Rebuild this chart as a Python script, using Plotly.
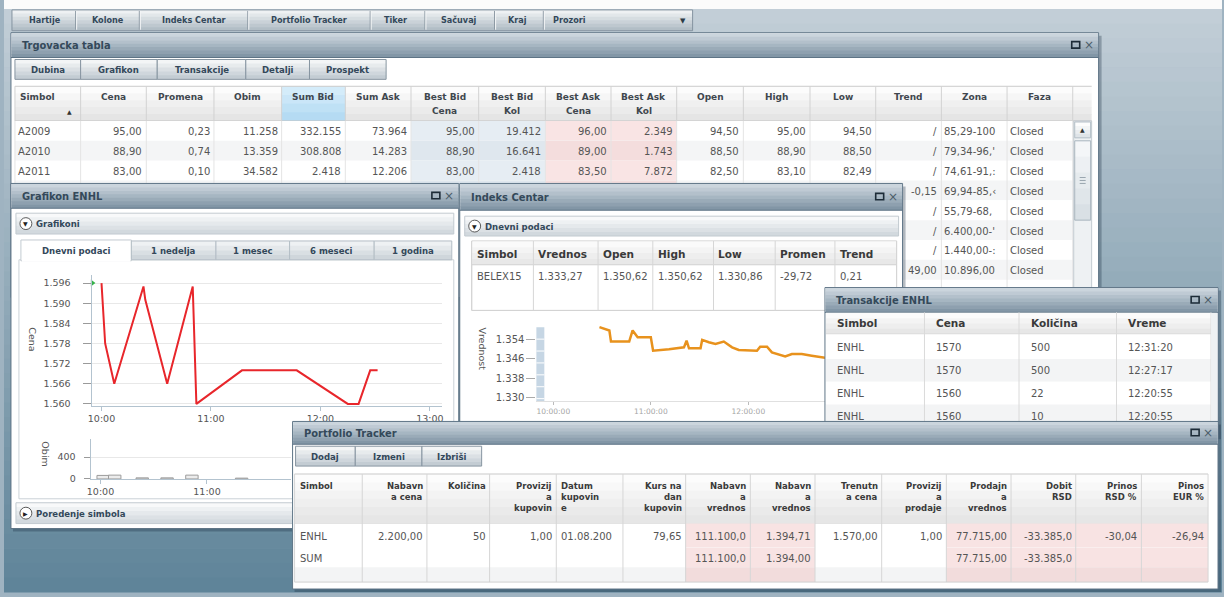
import plotly.graph_objects as go

W, H = 1224, 597
DAY = "2009-08-03 "

# ----------------------------- data -----------------------------
toolbar_labels = ["Hartije", "Kolone", "Indeks Centar", "Portfolio Tracker",
                  "Tiker", "Sačuvaj", "Kraj", "Prozori"]

board_title = "Trgovacka tabla"
board_buttons = ["Dubina", "Grafikon", "Transakcije", "Detalji", "Prospekt"]
board_headers = [["Simbol"], ["Cena"], ["Promena"], ["Obim"], ["Sum Bid"],
                 ["Sum Ask"], ["Best Bid", "Cena"], ["Best Bid", "Kol"],
                 ["Best Ask", "Cena"], ["Best Ask", "Kol"], ["Open"], ["High"],
                 ["Low"], ["Trend"], ["Zona"], ["Faza"]]
board_rows = [
    ["A2009", "95,00", "0,23", "11.258", "332.155", "73.964", "95,00", "19.412",
     "96,00", "2.349", "94,50", "95,00", "94,50", "/", "85,29-100", "Closed"],
    ["A2010", "88,90", "0,74", "13.359", "308.808", "14.283", "88,90", "16.641",
     "89,00", "1.743", "88,50", "88,90", "88,50", "/", "79,34-96,'", "Closed"],
    ["A2011", "83,00", "0,10", "34.582", "2.418", "12.206", "83,00", "2.418",
     "83,50", "7.872", "82,50", "83,10", "82,49", "/", "74,61-91,:", "Closed"],
]
board_more_trend = ["-0,15", "/", "/", "/", "49,00"]
board_more_zona = ["69,94-85,‹", "55,79-68,", "6.400,00-'", "1.440,00-:", "10.896,00"]
board_more_faza = ["Closed", "Closed", "Closed", "Closed", "Closed"]

chart_title = "Grafikon ENHL"
chart_tabs = ["Dnevni podaci", "1 nedelja", "1 mesec", "6 meseci", "1 godina"]
enhl_times = ["10:00:00", "10:02:00", "10:07:00", "10:23:00", "10:24:00", "10:36:00",
              "10:50:00", "10:52:00", "11:17:00", "11:47:00", "12:15:00", "12:20:55",
              "12:27:17", "12:31:20"]
enhl_prices = [1596, 1578, 1566, 1595, 1591, 1566, 1595, 1560, 1570, 1570, 1560, 1560,
               1570, 1570]
enhl_open_time = "09:55:00"
enhl_open_price = 1596
vol_times = ["10:01:30", "10:08:00", "10:23:30", "10:37:30", "10:51:30", "11:19:30"]
vol_values = [65, 70, 20, 20, 70, 15]

index_title = "Indeks Centar"
index_headers = ["Simbol", "Vrednos", "Open", "High", "Low", "Promen", "Trend"]
index_row = ["BELEX15", "1.333,27", "1.350,62", "1.350,62", "1.330,86", "-29,72", "0,21"]
index_times = ["10:28:24", "10:34:30", "10:35:30", "10:46:42", "10:48:48", "10:51:54",
               "11:00:00", "11:01:24", "11:11:12", "11:20:24", "11:22:00", "11:23:30",
               "11:30:36", "11:31:36", "11:35:42", "11:39:48", "11:44:54", "11:50:00",
               "11:54:06", "12:01:12", "12:05:18", "12:07:18", "12:11:30", "12:14:30",
               "12:18:36", "12:22:42", "12:26:48", "12:32:54", "12:39:00", "12:45:06",
               "12:52:00"]
index_values = [1359.2, 1357.8, 1353.2, 1353.2, 1357.8, 1355.0, 1355.0, 1349.4, 1350.0,
                1350.8, 1353.6, 1350.4, 1350.4, 1353.9, 1352.9, 1352.2, 1353.2, 1350.8,
                1349.7, 1349.4, 1349.4, 1351.1, 1351.1, 1348.7, 1348.0, 1347.0, 1348.0,
                1348.0, 1347.3, 1346.5, 1346.0]

trans_title = "Transakcije ENHL"
trans_headers = ["Simbol", "Cena", "Količina", "Vreme"]
trans_symbol = ["ENHL", "ENHL", "ENHL", "ENHL"]
trans_price = ["1570", "1570", "1560", "1560"]
trans_qty = ["500", "500", "22", "10"]
trans_time = ["12:31:20", "12:27:17", "12:20:55", "12:20:55"]

pf_title = "Portfolio Tracker"
pf_buttons = ["Dodaj", "Izmeni", "Izbriši"]
pf_headers = [["Simbol"], ["Nabavn", "a cena"], ["Količina"], ["Provizij", "a", "kupovin"],
              ["Datum", "kupovin", "e"], ["Kurs na", "dan", "kupovin"],
              ["Nabavn", "a", "vrednos"], ["Nabavn", "a", "vrednos"], ["Trenutn", "a cena"],
              ["Provizij", "a", "prodaje"], ["Prodajn", "a", "vrednos"], ["Dobit", "RSD"],
              ["Prinos", "RSD %"], ["Pinos", "EUR %"]]
pf_rows = [
    ["ENHL", "2.200,00", "50", "1,00", "01.08.200", "79,65", "111.100,0", "1.394,71",
     "1.570,00", "1,00", "77.715,00", "-33.385,0", "-30,04", "-26,94"],
    ["SUM", "", "", "", "", "", "111.100,0", "1.394,00", "", "", "77.715,00",
     "-33.385,0", "", ""],
]

# ----------------------------- helpers -----------------------------
UI = "DejaVu Sans Condensed, DejaVu Sans, sans-serif"
DF = "DejaVu Sans, Verdana, sans-serif"
TXT = "#555555"
HDR = "#3f474e"
BTN = "#33485a"

shapes, annotations = [], []
LAYER = ["below"]


def X(x):
    return x / W


def Y(y):
    return 1 - y / H


def hex2rgb(h):
    h = h.lstrip("#")
    return tuple(int(h[i:i + 2], 16) for i in (0, 2, 4))


def mix(a, b, t):
    ra, rb = hex2rgb(a), hex2rgb(b)
    return "rgb(%d,%d,%d)" % tuple(round(ra[i] + (rb[i] - ra[i]) * t) for i in range(3))


def rect(x0, y0, x1, y1, fill=None, line=None, lw=1):
    shapes.append(dict(type="rect", xref="paper", yref="paper",
                       x0=X(x0), x1=X(x1), y0=Y(y1), y1=Y(y0),
                       fillcolor=fill if fill else "rgba(0,0,0,0)",
                       line=dict(color=line if line else "rgba(0,0,0,0)",
                                 width=lw if line else 0),
                       layer=LAYER[0]))


def seg(x0, y0, x1, y1, color, lw=1):
    shapes.append(dict(type="line", xref="paper", yref="paper",
                       x0=X(x0), x1=X(x1), y0=Y(y0), y1=Y(y1),
                       line=dict(color=color, width=lw), layer=LAYER[0]))


def circ(cx, cy, r, fill, line):
    shapes.append(dict(type="circle", xref="paper", yref="paper",
                       x0=X(cx - r), x1=X(cx + r), y0=Y(cy + r), y1=Y(cy - r),
                       fillcolor=fill, line=dict(color=line, width=1), layer=LAYER[0]))


def grad(x0, y0, x1, y1, c0, c1, n=6):
    h = (y1 - y0) / n
    for i in range(n):
        t = i / (n - 1) if n > 1 else 0
        rect(x0, y0 + h * i, x1, min(y1, y0 + h * (i + 1) + 0.6), fill=mix(c0, c1, t))


def txt(x, y, s, size=10, color=TXT, bold=False, anchor="left", fam=DF, angle=0):
    annotations.append(dict(xref="paper", yref="paper", x=X(x), y=Y(y),
                            text=("<b>%s</b>" % s) if bold else s, showarrow=False,
                            xanchor=anchor, yanchor="middle", borderpad=0, borderwidth=0,
                            font=dict(family=fam, size=size, color=color),
                            textangle=angle))


def window(x0, y0, x1, y1, tb, title):
    rect(x0 + 2, y0 + 3, x1 + 3, y1 + 3, fill="rgba(20,40,60,0.30)")
    rect(x0, y0, x1, y1, fill="#ffffff", line="#5d7385", lw=1)
    grad(x0 + 0.5, y0 + 0.5, x1 - 0.5, y0 + tb, "#cbd5dd", "#8296a6", 7)
    seg(x0, y0 + tb, x1, y0 + tb, "#5d7385", 1)
    txt(x0 + 11, y0 + tb / 2 + 0.5, title, size=11, color="#34495a", bold=True, fam=UI)
    rect(x1 - 27, y0 + tb / 2 - 3.5, x1 - 19, y0 + tb / 2 + 3, line="#1d2c38", lw=1.6)
    txt(x1 - 10, y0 + tb / 2, "×", size=12, color="#4d5d6a", anchor="center", fam=DF)


def button_row(edges, y0, y1, labels, size=9.5):
    for k, lab in enumerate(labels):
        grad(edges[k], y0, edges[k + 1], y1, "#f3f5f6", "#c3ccd3", 5)
        rect(edges[k], y0, edges[k + 1], y1, line="#8795a1", lw=1)
        txt((edges[k] + edges[k + 1]) / 2, (y0 + y1) / 2, lab, size=size, color=BTN,
            bold=True, anchor="center", fam=UI)


def bar_header(x0, y0, x1, y1, label, glyph):
    grad(x0, y0, x1, y1, "#f8f9fa", "#d2d9de", 5)
    rect(x0, y0, x1, y1, line="#c2cad0", lw=1)
    circ(x0 + 10, (y0 + y1) / 2, 6, "#ffffff", "#5a5a5a")
    txt(x0 + 10, (y0 + y1) / 2, glyph, size=6, color="#222", anchor="center")
    txt(x0 + 20, (y0 + y1) / 2, label, size=9.5, color=BTN, bold=True, fam=UI)


# ----------------------------- desktop -----------------------------
n_bands = 40
for i in range(n_bands):
    y0 = 9 + (H - 9) * i / n_bands
    y1 = 9 + (H - 9) * (i + 1) / n_bands + 0.6
    rect(0, y0, W, y1, fill=mix("#c2ced7", "#5f8499", i / (n_bands - 1)))
rect(0, 0, W, 9, fill="#fbfbfb")

# toolbar
tb_edges = [8, 72, 136, 245, 368, 423, 493, 542, 692]
tb_centers = [41, 105, 191, 307, 393, 457, 516]
grad(8, 10, 692, 31, "#eef1f3", "#b2bec6", 6)
rect(8, 10, 692, 31, line="#8593a0", lw=1)
for e in tb_edges[1:-1]:
    seg(e, 11, e, 30, "#8895a0")
    seg(e + 1, 11, e + 1, 30, "#f4f6f7")
for k, c in enumerate(tb_centers):
    txt(c, 20.5, toolbar_labels[k], size=9, color=BTN, bold=True, anchor="center", fam=UI)
txt(552, 20.5, toolbar_labels[7], size=9, color=BTN, bold=True, fam=UI)
txt(682, 21, "▼", size=7, color="#2c3a46", anchor="center")

# ----------------------------- Trgovacka tabla -----------------------------
LAYER[0] = "below"
window(7, 33, 1100, 300, 25, board_title)
button_row([11, 77, 154, 243, 307, 384], 60, 80, board_buttons)
b_edges = [11, 77, 143, 211, 279, 343, 409, 477, 544, 610, 676, 743, 810, 876, 942,
           1008, 1074]
b_align = ["l"] + ["r"] * 13 + ["l", "l"]
grad(11, 87, 1093, 122, "#fcfcfc", "#e5e5e5", 5)
grad(279, 87, 343, 122, "#d4ecfa", "#b5dbf3", 4)
seg(11, 87, 1093, 87, "#cacaca")
seg(11, 122, 1093, 122, "#c4c4c4")
for i in range(8):
    y0 = 122 + 20 * i
    rect(11, y0, 1074, y0 + 20, fill="#ffffff" if i % 2 == 0 else "#f4f5f6")
    rect(409, y0, 544, y0 + 20, fill="#e6edf3" if i % 2 == 0 else "#dfe7ee")
    rect(544, y0, 676, y0 + 20, fill="#f9e4e4" if i % 2 == 0 else "#f4dddd")
for e in b_edges:
    seg(e, 87, e, 122, "#d2d2d2")
    seg(e, 122, e, 290, "#e4e4e4")
for j, hd in enumerate(board_headers):
    cx = (b_edges[j] + b_edges[j + 1]) / 2
    for k, ln in enumerate(hd):
        if j == 0:
            txt(16, 98, ln, size=9, color=HDR, bold=True, fam=DF)
        else:
            txt(cx, 98 + 14 * k, ln, size=9, color=HDR, bold=True, anchor="center", fam=DF)
txt(66, 112, "▲", size=6, color="#333", anchor="center")
for i, row in enumerate(board_rows):
    yc = 133 + 20 * i
    for j, val in enumerate(row):
        if b_align[j] == "l":
            txt(b_edges[j] + 3, yc, val)
        else:
            txt(b_edges[j + 1] - 4, yc, val, anchor="right")
for i in range(len(board_more_zona)):
    yc = 133 + 20 * (i + 3)
    txt(b_edges[14] - 4, yc, board_more_trend[i], anchor="right")
    txt(b_edges[14] + 3, yc, board_more_zona[i])
    txt(b_edges[15] + 3, yc, board_more_faza[i])
# scrollbar
rect(1075, 122, 1093, 290, fill="#eef1f3", line="#c3cbd1")
grad(1076, 123, 1092, 139, "#fdfdfd", "#dfe4e8", 4)
rect(1076, 123, 1092, 139, line="#b3bec6")
txt(1084, 131, "▲", size=6, color="#333", anchor="center")
grad(1076, 142, 1092, 222, "#f4f6f8", "#d9e0e5", 5)
rect(1076, 142, 1092, 222, line="#a9b5be")
for yy in (179, 182, 185):
    seg(1081, yy, 1087, yy, "#9aa6af")

# ----------------------------- Grafikon ENHL -----------------------------
window(7, 185, 457, 533, 25, chart_title)
bar_header(12, 215, 452, 236, "Grafikoni", "▼")
tab_edges = [17, 128, 213, 287, 372, 450]
rect(15, 262, 452, 503, fill="#ffffff", line="#cbd2d7")
for k, lab in enumerate(chart_tabs):
    if k == 0:
        rect(tab_edges[0], 242, tab_edges[1], 263, fill="#ffffff", line="#c3cbd1")
        rect(tab_edges[0] + 1, 260, tab_edges[1] - 1, 264, fill="#ffffff")
    else:
        grad(tab_edges[k], 243, tab_edges[k + 1], 262, "#eef1f3", "#cfd6db", 4)
        rect(tab_edges[k], 243, tab_edges[k + 1], 262, line="#b4bec6")
    txt((tab_edges[k] + tab_edges[k + 1]) / 2, 253, lab, size=9.5, color=BTN, bold=True,
        anchor="center", fam=UI)
bar_header(12, 507, 452, 528, "Poredenje simbola", "▶")
txt(29, 342, "Cena", size=9.5, color="#555", anchor="center", angle=90)
txt(42, 458, "Obim", size=9.5, color="#555", anchor="center", angle=90)

# ----------------------------- Indeks Centar -----------------------------
window(458, 185, 903, 440, 27, index_title)
bar_header(463, 218, 899, 238, "Dnevni podaci", "▼")
i_edges = [470, 532, 597, 652, 713, 775, 835, 897]
rect(470, 243, 897, 313, fill="#ffffff", line="#cdcdcd")
grad(470.5, 243.5, 896.5, 267, "#fafafa", "#e8e8e8", 4)
seg(470, 267, 897, 267, "#d0d0d0")
for e in i_edges:
    seg(e, 243, e, 313, "#d6d6d6")
for j, hd in enumerate(index_headers):
    txt(i_edges[j] + 5, 256, hd, size=10.5, color="#3a3a3a", bold=True)
    txt(i_edges[j] + 5, 279, index_row[j], size=10, color=TXT)
rect(535, 330, 543, 405, fill="#c6d6e4")
for yy in range(342, 405, 12):
    seg(535, yy, 543, yy, "#ffffff", 1)
txt(481, 352, "Vrednost", size=9.5, color="#555", anchor="center", angle=90)

# ----------------------------- Transakcije ENHL (on top of charts) -----------------------------
LAYER[0] = "above"
window(825, 290, 1220, 440, 25, trans_title)
t_edges = [825, 925, 1020, 1118, 1213]
grad(826, 315.5, 1213, 337, "#fbfbfb", "#e7e7e7", 4)
seg(826, 337, 1213, 337, "#cfcfcf")
row_bands = [(337, 362), (362, 385), (385, 408), (408, 431)]
for i, (ya, yb) in enumerate(row_bands):
    rect(826, ya, 1213, yb, fill="#ffffff" if i % 2 == 0 else "#f3f4f5")
for e in t_edges[1:]:
    seg(e, 315, e, 431, "#dadada")
rect(1213, 315.5, 1219.5, 431, fill="#eef1f3")
for j, hd in enumerate(trans_headers):
    txt(t_edges[j] + 12, 326, hd, size=10.5, color="#3a3a3a", bold=True)
cols = [trans_symbol, trans_price, trans_qty, trans_time]
for i, (ya, yb) in enumerate(row_bands):
    for j in range(4):
        txt(t_edges[j] + 12, (ya + yb) / 2 + 0.5, cols[j][i])

# ----------------------------- Portfolio Tracker -----------------------------
window(290, 425, 1220, 594, 23, pf_title)
button_row([293, 353, 420, 480], 450, 470, pf_buttons)
p_edges = [292, 360, 425, 488, 555, 622, 685, 750, 815, 882, 947, 1012, 1077, 1143, 1210]
pink_cols = {6, 7, 10, 11, 12, 13}
grad(292, 478, 1210, 528, "#fcfcfc", "#e6e6e6", 6)
seg(292, 478, 1210, 478, "#cacaca")
seg(292, 528, 1210, 528, "#c4c4c4")
p_bands = [(528, 552), (552, 572), (572, 587)]
for i, (ya, yb) in enumerate(p_bands):
    rect(292, ya, 1210, yb, fill="#ffffff" if i < 2 else "#f3f4f5")
    for j in pink_cols:
        rect(p_edges[j], ya, p_edges[j + 1], yb, fill="#f8e3e3" if i < 2 else "#f2dcdc")
for e in p_edges:
    seg(e, 478, e, 587, "#d6d6d6")
seg(292, 587, 1210, 587, "#d0d0d0")
for j, hd in enumerate(pf_headers):
    for k, ln in enumerate(hd):
        yy = 490 + 11 * k
        if j in (0, 4):
            txt(p_edges[j] + 5, yy, ln, size=8.5, color="#3a3a3a", bold=True)
        else:
            txt(p_edges[j + 1] - 4, yy, ln, size=8.5, color="#3a3a3a", bold=True,
                anchor="right")
for i, row in enumerate(pf_rows):
    yc = (p_bands[i][0] + p_bands[i][1]) / 2 + 1
    for j, val in enumerate(row):
        if not val:
            continue
        if j in (0, 4):
            txt(p_edges[j] + 5, yc, val)
        else:
            txt(p_edges[j + 1] - 4, yc, val, anchor="right")

# ----------------------------- traces -----------------------------
fig = go.Figure()
fig.add_trace(go.Scatter(x=[DAY + t for t in enhl_times], y=enhl_prices, mode="lines",
                         line=dict(color="#e8262b", width=2), xaxis="x", yaxis="y",
                         hoverinfo="skip"))
fig.add_trace(go.Scatter(x=[DAY + enhl_open_time], y=[enhl_open_price], mode="markers",
                         marker=dict(symbol="triangle-right", size=6, color="#34b24a"),
                         xaxis="x", yaxis="y", cliponaxis=False, hoverinfo="skip"))
fig.add_trace(go.Bar(x=[DAY + t for t in vol_times], y=vol_values,
                     width=[420000] * len(vol_values),
                     marker=dict(color="#ececec", line=dict(color="#9c9c9c", width=1)),
                     xaxis="x2", yaxis="y2", hoverinfo="skip"))
fig.add_trace(go.Scatter(x=[DAY + t for t in index_times], y=index_values, mode="lines",
                         line=dict(color="#e8921d", width=2.5), xaxis="x3", yaxis="y3",
                         hoverinfo="skip"))

tick_font = dict(family=DF, size=9.5, color="#555")
base_x = dict(type="date", dtick=3600000, tick0=DAY + "10:00:00", showgrid=False,
              zeroline=False, showline=True, ticks="outside", fixedrange=True)
fig.update_layout(
    width=W, height=H, margin=dict(l=0, r=0, t=0, b=0),
    paper_bgcolor="#9fb3c1", plot_bgcolor="rgba(0,0,0,0)",
    showlegend=False, hovermode=False, separators=",.",
    shapes=shapes, annotations=annotations,
    xaxis=dict(base_x, domain=[X(88), X(440)], anchor="y",
               range=[DAY + "09:54:33", DAY + "13:06:33"], tickformat="%H:%M",
               linecolor="#b3c3cf", ticklen=4, tickcolor="#b3c3cf", tickfont=tick_font),
    yaxis=dict(domain=[Y(409), Y(277)], anchor="x", range=[1559.5, 1598.5], dtick=6,
               tick0=1560, tickformat=",d", showgrid=True, gridcolor="#e8e8e8",
               zeroline=False, showline=True, linecolor="#b3c3cf", ticks="outside",
               ticklen=8, tickcolor="#9a9a9a", ticklabelstandoff=10, tickfont=tick_font,
               fixedrange=True),
    xaxis2=dict(base_x, domain=[X(87), X(288)], anchor="y2",
                range=[DAY + "09:54:24", DAY + "11:47:06"], tickformat="%H:%M",
                linecolor="#b3c3cf", ticklen=4, tickcolor="#b3c3cf", tickfont=tick_font),
    yaxis2=dict(domain=[Y(483), Y(443)], anchor="x2", range=[0, 727], dtick=400,
                tickformat=",d", showgrid=True, gridcolor="#e8e8e8", zeroline=False,
                showline=True, linecolor="#b3c3cf", ticks="outside", ticklen=6,
                tickcolor="#9a9a9a", ticklabelstandoff=6, tickfont=tick_font,
                fixedrange=True),
    xaxis3=dict(base_x, domain=[X(535), X(825)], anchor="y3",
                range=[DAY + "09:49:35", DAY + "12:47:09"], tickformat="%H:%M:%S",
                linecolor="#e0e0e0", ticklen=3, tickcolor="#bbbbbb",
                tickfont=dict(family=DF, size=7.5, color="#a5a5a5")),
    yaxis3=dict(domain=[Y(404), Y(325)], anchor="x3", range=[1328.7, 1361.2], dtick=8,
                tick0=1330, tickformat=",d", showgrid=False, zeroline=False,
                showline=False, ticks="outside", ticklen=9, tickcolor="#aaaaaa",
                tickfont=dict(family=DF, size=10, color="#555"), fixedrange=True),
)

fig.write_html("out.html", config={"displayModeBar": False},
               post_script="document.body.style.margin='0';document.body.style.overflow='hidden';")
